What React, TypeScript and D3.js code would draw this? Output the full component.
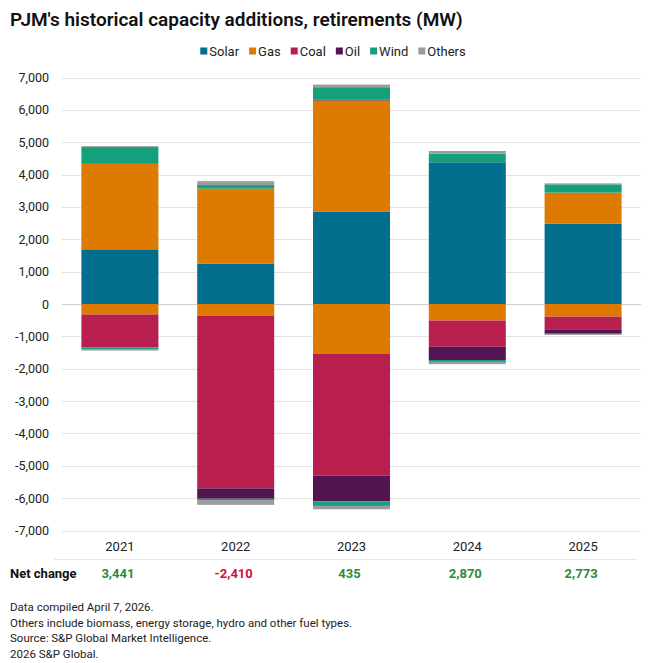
import { useEffect, useRef } from 'react';
import * as d3 from 'd3';

const years = ['2021', '2022', '2023', '2024', '2025'];

// MW added (positive) / retired (negative) per fuel
const solarAdd = [1690, 1250, 2860, 4380, 2480];
const gasAdd = [2640, 2316, 3430, 0, 963];
const oilAdd = [0, 0, 30, 0, 0];
const windAdd = [520, 110, 380, 270, 255];
const othersAdd = [30, 120, 80, 80, 30];
const gasRet = [-325, -356, -1530, -510, -390];
const coalRet = [-1020, -5342, -3770, -810, -410];
const oilRet = [0, -320, -800, -410, -120];
const windRet = [-50, -40, -140, -60, 0];
const othersRet = [-45, -150, -105, -70, -35];

const netChange = [3441, -2410, 435, 2870, 2773];

const yTicks = [7000, 6000, 5000, 4000, 3000, 2000, 1000, 0, -1000, -2000, -3000, -4000, -5000, -6000, -7000];

const fuels = ['Solar', 'Gas', 'Coal', 'Oil', 'Wind', 'Others'];
const fuelColors = ['#006e8c', '#df7a00', '#b81f4f', '#521552', '#14a07a', '#9c9c9e'];

const notes = [
  'Data compiled April 7, 2026.',
  'Others include biomass, energy storage, hydro and other fuel types.',
  'Source: S&P Global Market Intelligence.',
  '2026 S&P Global.'
];

const FONT = 'Roboto, "Noto Sans", sans-serif';

// plain hyphen for negatives, as in the source chart
const fmt = d3
  .formatLocale({ decimal: '.', thousands: ',', grouping: [3], currency: ['$', ''], minus: '-' })
  .format(',');

export default function App() {
  const svgRef = useRef<SVGSVGElement>(null);

  useEffect(() => {
    if (!svgRef.current) return;
    const svg = d3.select(svgRef.current);
    svg.selectAll('*').remove();

    // one row per year, with separate keys for additions and retirements
    const rows = years.map((year, i) => ({
      year,
      'Solar+': solarAdd[i],
      'Gas+': gasAdd[i],
      'Gas-': gasRet[i],
      'Coal-': coalRet[i],
      'Oil+': oilAdd[i],
      'Oil-': oilRet[i],
      'Wind+': windAdd[i],
      'Wind-': windRet[i],
      'Others+': othersAdd[i],
      'Others-': othersRet[i]
    }));
    const keys = ['Solar+', 'Gas+', 'Gas-', 'Coal-', 'Oil+', 'Oil-', 'Wind+', 'Wind-', 'Others+', 'Others-'];
    const color = d3.scaleOrdinal<string, string>().domain(fuels).range(fuelColors);

    const x = d3.scaleBand().domain(years).range([62, 641]).paddingInner(0.335).paddingOuter(0.1675);
    const y = d3.scaleLinear().domain([-7000, 7000]).range([530.5, 77.5]);

    // Title
    svg
      .append('text')
      .attr('x', 10)
      .attr('y', 26)
      .text("PJM's historical capacity additions, retirements (MW)")
      .style('font-family', FONT)
      .style('font-size', '19px')
      .style('font-weight', 600)
      .style('fill', '#111');

    // Legend
    const legend = svg.append('g');
    let lx = 0;
    fuels.forEach((f) => {
      const g = legend.append('g').attr('transform', `translate(${lx},0)`);
      g.append('rect').attr('x', 0).attr('y', -3.5).attr('width', 7).attr('height', 7).style('fill', color(f));
      const t = g
        .append('text')
        .attr('x', 9)
        .attr('y', 4.5)
        .text(f)
        .style('font-family', FONT)
        .style('font-size', '13px')
        .style('fill', '#222');
      lx += 9 + (t.node() as SVGTextElement).getComputedTextLength() + 10;
    });
    lx -= 10;
    legend.attr('transform', `translate(${333 - lx / 2},51)`);

    // Grid
    svg
      .append('g')
      .selectAll('line')
      .data(yTicks)
      .enter()
      .append('line')
      .attr('x1', 62)
      .attr('x2', 641)
      .attr('y1', (d) => Math.round(y(d)) + 0.5)
      .attr('y2', (d) => Math.round(y(d)) + 0.5)
      .style('stroke', (d) => (d === 0 ? '#cfcfcf' : '#e3e3e3'))
      .style('stroke-width', 1);

    // Y tick labels
    svg
      .append('g')
      .selectAll('text')
      .data(yTicks)
      .enter()
      .append('text')
      .attr('x', 49)
      .attr('y', (d) => y(d) + 4.5)
      .attr('text-anchor', 'end')
      .text((d) => fmt(d))
      .style('font-family', FONT)
      .style('font-size', '12.5px')
      .style('fill', '#222');

    // Bars
    const series = d3.stack<any>().keys(keys).offset(d3.stackOffsetDiverging)(rows);
    svg
      .append('g')
      .selectAll('g')
      .data(series)
      .enter()
      .append('g')
      .style('fill', (s) => color(s.key.slice(0, -1)))
      .selectAll('rect')
      .data((s) => s)
      .enter()
      .append('rect')
      .attr('x', (d) => x(d.data.year)!)
      .attr('width', x.bandwidth())
      .attr('y', (d) => y(Math.max(d[0], d[1])))
      .attr('height', (d) => Math.abs(y(d[0]) - y(d[1])));

    // X labels
    svg
      .append('g')
      .selectAll('text')
      .data(years)
      .enter()
      .append('text')
      .attr('x', (d) => x(d)! + x.bandwidth() / 2)
      .attr('y', 551)
      .attr('text-anchor', 'middle')
      .text((d) => d)
      .style('font-family', FONT)
      .style('font-size', '13px')
      .style('fill', '#222');

    svg
      .append('line')
      .attr('x1', 54)
      .attr('x2', 637)
      .attr('y1', 559.5)
      .attr('y2', 559.5)
      .style('stroke', '#e6e6e6');

    // Net change row
    svg
      .append('text')
      .attr('x', 10)
      .attr('y', 578)
      .text('Net change')
      .style('font-family', FONT)
      .style('font-size', '13px')
      .style('font-weight', 700)
      .style('fill', '#111');

    svg
      .append('g')
      .selectAll('text')
      .data(netChange)
      .enter()
      .append('text')
      .attr('x', (d, i) => x(years[i])! + x.bandwidth() / 2 - 2)
      .attr('y', 578)
      .attr('text-anchor', 'middle')
      .text((d) => fmt(d))
      .style('font-family', FONT)
      .style('font-size', '13px')
      .style('font-weight', 700)
      .style('fill', (d) => (d < 0 ? '#d0103a' : '#2a8c3c'));

    // Notes
    svg
      .append('g')
      .selectAll('text')
      .data(notes)
      .enter()
      .append('text')
      .attr('x', 10)
      .attr('y', (d, i) => 611 + i * 15.5)
      .text((d) => d)
      .style('font-family', FONT)
      .style('font-size', '11.5px')
      .style('fill', '#222');
  }, []);

  return (
    <svg
      ref={svgRef}
      width={661}
      height={663}
      style={{ position: 'absolute', left: 0, top: 0, background: '#fff' }}
    />
  );
}
